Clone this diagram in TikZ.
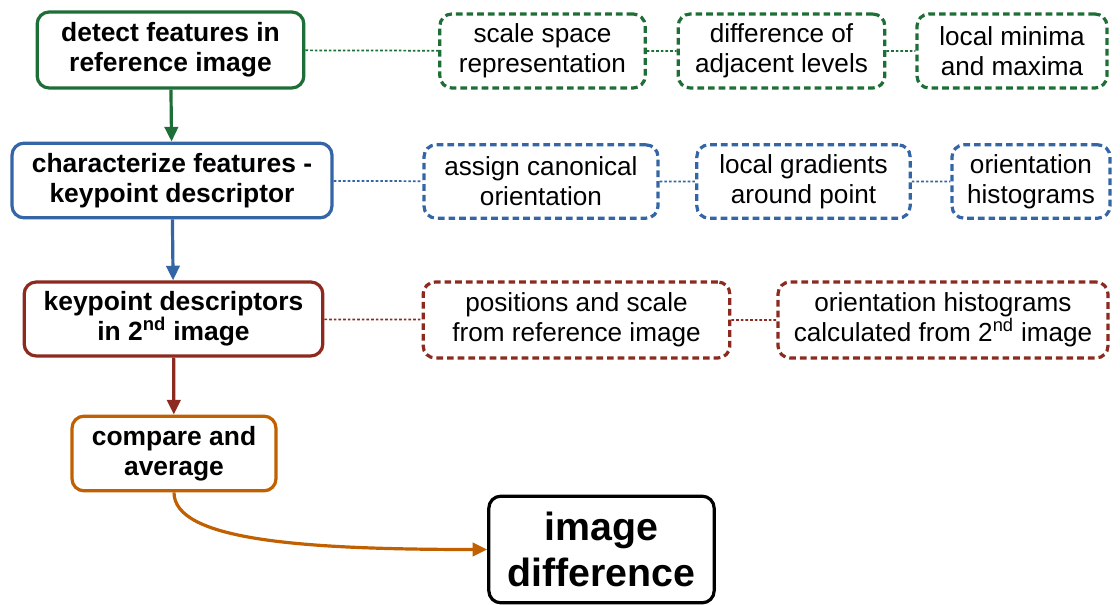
\documentclass[tikz,border=0pt]{standalone}
\usepackage{fontspec}
\setmainfont{Liberation Sans}
\usetikzlibrary{arrows.meta}
\definecolor{detgreen}{RGB}{30,110,55}
\definecolor{charblue}{RGB}{52,101,164}
\definecolor{descred}{RGB}{140,42,32}
\definecolor{cmporange}{RGB}{192,96,0}
\tikzset{
  mainbox/.style={draw, line width=2.4pt, rounded corners=9pt, fill=white, align=center,
    inner sep=0pt, font=\bfseries\fontsize{19.8}{22.5}\selectfont},
  subbox/.style={draw, line width=2.4pt, dash pattern=on 5pt off 3pt, rounded corners=9pt,
    align=center, inner sep=0pt, font=\fontsize{19.6}{22.5}\selectfont},
  link/.style={line width=1.3pt, dash pattern=on 2pt off 1.5pt},
  flow/.style={line width=2.4pt, -{Triangle[length=11pt,width=10pt]}}
}
\begin{document}
\begin{tikzpicture}[x=0.75pt, y=-0.75pt]
  \useasboundingbox (0,0) rectangle (1120,605);
  % main column
  \node[mainbox, draw=detgreen, minimum width=200pt, minimum height=57pt] (detect) at (170.5,50)
    {detect features in\\reference image};
  \node[mainbox, draw=charblue, minimum width=240pt, minimum height=56pt] (charact) at (172,180.5)
    {characterize features -\\keypoint descriptor};
  \node[mainbox, draw=descred, minimum width=224pt, minimum height=55.5pt] (second) at (173.5,319)
    {keypoint descriptors\\in 2\textsuperscript{nd} image};
  \node[mainbox, draw=cmporange, minimum width=153pt, minimum height=56pt] (compare) at (174,453.5)
    {compare and\\average};
  \node[mainbox, draw=black, minimum width=169pt, minimum height=80pt,
    font=\bfseries\fontsize{29.5}{34}\selectfont] (imgdiff) at (601.5,549.5)
    {image\\difference};
  % detection steps
  \node[subbox, draw=detgreen, minimum width=154pt, minimum height=55.5pt] (scalesp) at (542.5,51)
    {scale space\\representation};
  \node[subbox, draw=detgreen, minimum width=155pt, minimum height=55.5pt] (diffadj) at (781.5,51)
    {difference of\\adjacent levels};
  \node[subbox, draw=detgreen, minimum width=142.5pt, minimum height=55.5pt] (minmax) at (1012,51)
    {local minima\\and maxima};
  % descriptor steps
  \node[subbox, draw=charblue, minimum width=175.5pt, minimum height=55pt] (canon) at (541,181.5)
    {assign canonical\\orientation};
  \node[subbox, draw=charblue, minimum width=160pt, minimum height=55pt] (gradients) at (803.5,181.5)
    {local gradients\\around point};
  \node[subbox, draw=charblue, minimum width=118.5pt, minimum height=55pt] (orhist) at (1031,181.5)
    {orientation\\histograms};
  % second image steps
  \node[subbox, draw=descred, minimum width=230pt, minimum height=57pt] (posscale) at (576.5,320)
    {positions and scale\\from reference image};
  \node[subbox, draw=descred, minimum width=247.5pt, minimum height=57pt] (orcalc) at (943,320)
    {orientation histograms\\calculated from 2\textsuperscript{nd} image};

  \draw[flow, detgreen] (detect) -- (charact);
  \draw[flow, charblue] (charact) -- (second);
  \draw[flow, descred] (second) -- (compare);
  \draw[flow, cmporange] (compare.south) .. controls (174,540) and (300,549.5) .. (imgdiff.west);

  \draw[link, detgreen] (detect) -- (scalesp) (scalesp) -- (diffadj) (diffadj) -- (minmax);
  \draw[link, charblue] (charact) -- (canon) (canon) -- (gradients) (gradients) -- (orhist);
  \draw[link, descred] (second) -- (posscale) (posscale) -- (orcalc);
\end{tikzpicture}
\end{document}
